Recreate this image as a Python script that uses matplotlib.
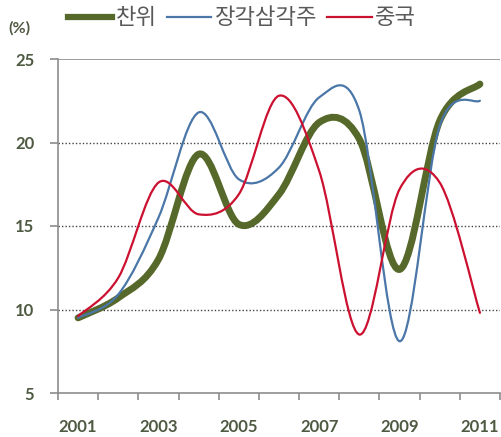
import numpy as np
import matplotlib
matplotlib.use("Agg")
import matplotlib.pyplot as plt
from matplotlib.path import Path
from matplotlib.patches import PathPatch
from matplotlib.lines import Line2D

# data (%)
years = ["2001", "2002", "2003", "2004", "2005", "2006",
         "2007", "2008", "2009", "2010", "2011"]
chanwi = [9.5, 10.7, 13.0, 19.3, 15.1, 16.9, 21.2, 20.2, 12.4, 21.3, 23.5]
changjiang = [9.5, 10.9, 15.5, 21.8, 17.8, 18.5, 22.7, 21.9, 8.1, 21.0, 22.5]
china = [9.6, 11.9, 17.6, 15.7, 16.9, 22.8, 18.3, 8.5, 17.2, 17.6, 9.8]

names = ["찬위", "장각삼각주", "중국"]
colors = ["#56692b", "#4a76a8", "#cc1030"]
widths = [5.0, 1.6, 1.6]

tick_color = "#4e5a42"
axis_color = "#8c8c8c"


def smooth_path(xs, ys):
    """Excel-like smoothed line as a cubic bezier path through the points."""
    pts = np.column_stack([xs, ys]).astype(float)
    n = len(pts)
    verts = [pts[0]]
    codes = [Path.MOVETO]
    for i in range(n - 1):
        p0 = pts[max(i - 1, 0)]
        p1 = pts[i]
        p2 = pts[i + 1]
        p3 = pts[min(i + 2, n - 1)]
        verts += [p1 + (p2 - p0) / 6.0, p2 - (p3 - p1) / 6.0, p2]
        codes += [Path.CURVE4] * 3
    return Path(verts, codes)


fig = plt.figure(figsize=(5.02, 4.37), dpi=100)
ax = fig.add_axes([58 / 502, 44 / 437, 442 / 502, 334 / 437])

x = np.arange(len(years))
for ys, c, lw in zip([chanwi, changjiang, china], colors, widths):
    patch = PathPatch(smooth_path(x, ys), facecolor="none", edgecolor=c,
                      lw=lw, capstyle="round", joinstyle="round", zorder=3)
    ax.add_patch(patch)

ax.set_xlim(-0.5, len(years) - 0.5)
ax.set_ylim(5, 25)

# grid
for g in [10, 15, 20]:
    ax.axhline(g, color="#444444", lw=1.0, ls=(0, (1, 1.5)), zorder=1)
ax.axhline(25, color=axis_color, lw=1.2, zorder=1)

for s in ["top", "right"]:
    ax.spines[s].set_visible(False)
for s in ["left", "bottom"]:
    ax.spines[s].set_color(axis_color)
    ax.spines[s].set_linewidth(1.2)

ax.set_yticks([5, 10, 15, 20, 25])
ax.set_xticks(np.arange(-0.5, len(years), 1.0))
ax.set_xticks(x[::2], minor=True)
ax.set_xticklabels([])
ax.set_xticklabels(years[::2], minor=True)
ax.tick_params(axis="x", which="major", length=5, width=1.2, color=axis_color)
ax.tick_params(axis="x", which="minor", length=0, pad=19)
ax.tick_params(axis="y", length=6, width=1.2, color=axis_color, pad=11)
for lab in ax.get_xticklabels(minor=True) + ax.get_yticklabels():
    lab.set_fontfamily("Lato")
    lab.set_fontweight("bold")
    lab.set_fontsize(12)
    lab.set_color(tick_color)

fig.text(8 / 502, 1 - 28 / 437, "(%)", fontsize=11.5, fontfamily="Lato",
         fontweight="bold", color=tick_color, va="center", ha="left")

handles = [Line2D([], [], color=c, lw=lw if lw < 4 else 4.5)
           for c, lw in zip(colors, widths)]
fig.legend(handles, names, loc="center left",
           bbox_to_anchor=(68 / 502, 1 - 18 / 437), ncol=3, frameon=False,
           handlelength=2.0, handletextpad=0.15, columnspacing=0.45,
           borderaxespad=0, borderpad=0,
           prop={"family": ["Noto Sans CJK KR", "DejaVu Sans"], "size": 16},
           labelcolor="#595959")

fig.savefig("out.png", dpi=100)
